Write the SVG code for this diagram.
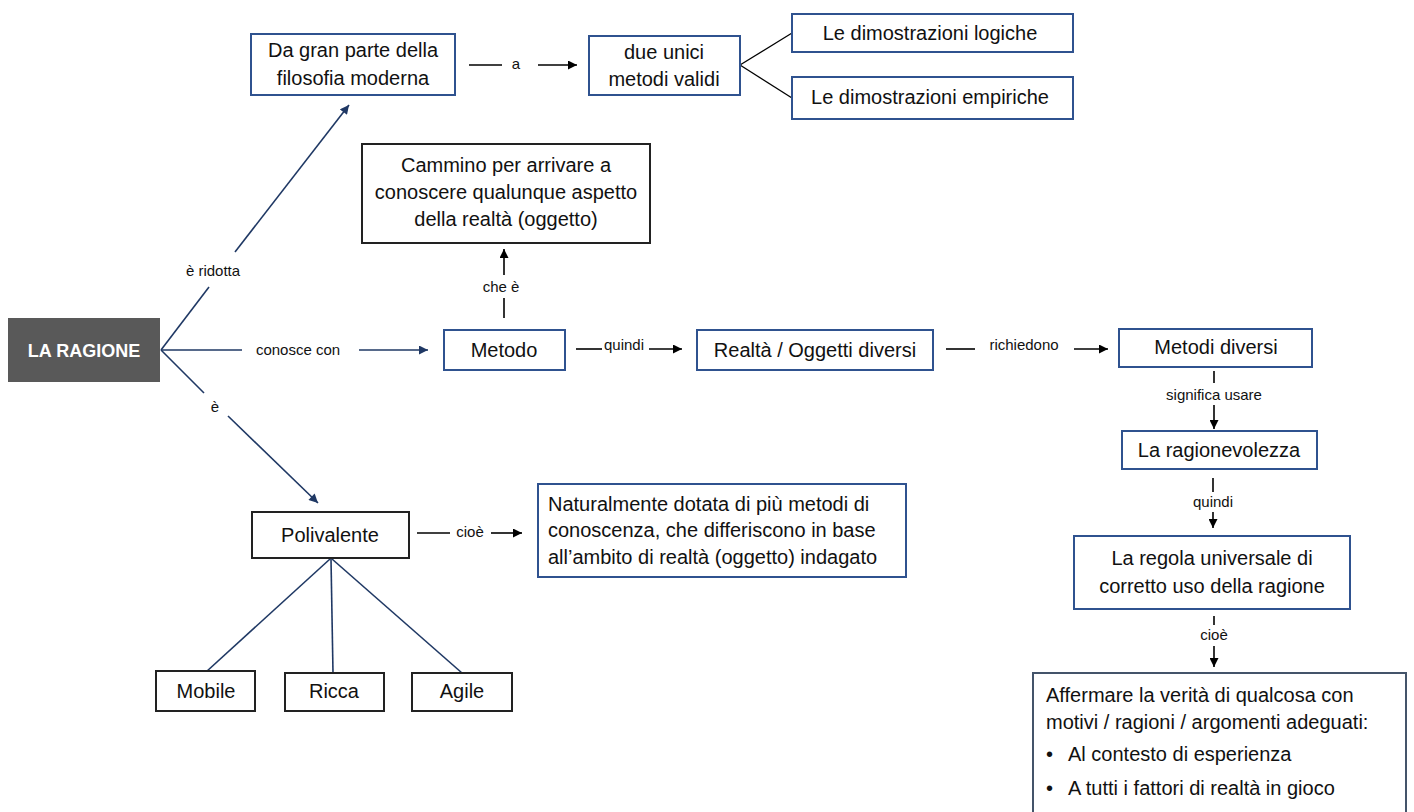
<svg xmlns="http://www.w3.org/2000/svg" width="1414" height="812" viewBox="0 0 1414 812">
<style>
.bg{fill:#fff}
.bb{fill:#fff;stroke:#2F528F;stroke-width:2}
.kb{fill:#fff;stroke:#222;stroke-width:2}
.t{font-family:"Liberation Sans",Arial,sans-serif;font-size:20px;fill:#111;text-anchor:middle}
.tl{font-family:"Liberation Sans",Arial,sans-serif;font-size:20px;fill:#111}
.lb{font-family:"Liberation Sans",Arial,sans-serif;font-size:15px;fill:#111;text-anchor:middle}
.nv{stroke:#1F3864;stroke-width:1.6;fill:none}
.bk{stroke:#000;stroke-width:1.6;fill:none}
</style>
<defs>
<marker id="an" viewBox="0 0 10 10" refX="10" refY="5" markerWidth="10" markerHeight="9" markerUnits="userSpaceOnUse" orient="auto"><path d="M0,0 L10,5 L0,10 z" fill="#1F3864"/></marker>
<marker id="ak" viewBox="0 0 10 10" refX="10" refY="5" markerWidth="10" markerHeight="9" markerUnits="userSpaceOnUse" orient="auto"><path d="M0,0 L10,5 L0,10 z" fill="#000"/></marker>
</defs>
<rect class="bg" x="0" y="0" width="1414" height="812"/>

<g id="connectors">
<line class="nv" x1="161" y1="350" x2="209" y2="287"/>
<line class="nv" x1="235" y1="252" x2="349" y2="105" marker-end="url(#an)"/>
<text class="lb" x="213" y="276">è ridotta</text>
<line class="nv" x1="161" y1="350" x2="242" y2="350"/>
<line class="nv" x1="359" y1="350" x2="428" y2="350" marker-end="url(#an)"/>
<text class="lb" x="298" y="355">conosce con</text>
<line class="nv" x1="161" y1="350" x2="204" y2="393"/>
<line class="nv" x1="228" y1="416" x2="318" y2="503" marker-end="url(#an)"/>
<text class="lb" x="215" y="412">è</text>
<line class="bk" x1="469" y1="65" x2="502" y2="65"/>
<text class="lb" x="516" y="69">a</text>
<line class="bk" x1="538" y1="65" x2="577" y2="65" marker-end="url(#ak)"/>
<line stroke="#000" stroke-width="1.3" x1="740" y1="65" x2="792" y2="33"/>
<line stroke="#000" stroke-width="1.3" x1="740" y1="65" x2="792" y2="98"/>
<line class="bk" x1="504" y1="318" x2="504" y2="298"/>
<text class="lb" x="501" y="292">che è</text>
<line class="bk" x1="504" y1="275" x2="504" y2="249" marker-end="url(#ak)"/>
<line class="bk" x1="576" y1="349" x2="602" y2="349"/>
<text class="lb" x="624" y="350">quindi</text>
<line class="bk" x1="649" y1="349" x2="682" y2="349" marker-end="url(#ak)"/>
<line class="bk" x1="946" y1="349" x2="975" y2="349"/>
<text class="lb" x="1024" y="350">richiedono</text>
<line class="bk" x1="1074" y1="349" x2="1108" y2="349" marker-end="url(#ak)"/>
<line class="bk" x1="1214" y1="371" x2="1214" y2="383"/>
<text class="lb" x="1214" y="400">significa usare</text>
<line class="bk" x1="1214" y1="405" x2="1214" y2="429" marker-end="url(#ak)"/>
<line class="bk" x1="1213" y1="478" x2="1213" y2="492"/>
<text class="lb" x="1213" y="507">quindi</text>
<line class="bk" x1="1213" y1="512" x2="1213" y2="528" marker-end="url(#ak)"/>
<line class="bk" x1="1214" y1="616" x2="1214" y2="625"/>
<text class="lb" x="1214" y="640">cioè</text>
<line class="bk" x1="1214" y1="646" x2="1214" y2="667" marker-end="url(#ak)"/>
<line class="bk" x1="417" y1="533" x2="450" y2="533"/>
<text class="lb" x="470" y="537">cioè</text>
<line class="bk" x1="491" y1="533" x2="522" y2="533" marker-end="url(#ak)"/>
<line class="nv" x1="330" y1="559" x2="206" y2="672"/>
<line class="nv" x1="331" y1="559" x2="333" y2="673"/>
<line class="nv" x1="332" y1="559" x2="462" y2="673"/>
</g>

<g id="la-ragione">
<rect x="8" y="318" width="152" height="64" fill="#595959"/>
<text x="84" y="357" font-family="Liberation Sans, Arial, sans-serif" font-size="18" font-weight="bold" fill="#fff" text-anchor="middle">LA RAGIONE</text>
</g>
<g id="filosofia">
<rect class="bb" x="251" y="34" width="204" height="61"/>
<text class="t" x="353" y="57">Da gran parte della</text>
<text class="t" x="353" y="85">filosofia moderna</text>
</g>
<g id="due-unici">
<rect class="bb" x="589" y="36" width="151" height="59"/>
<text class="t" x="664" y="59">due unici</text>
<text class="t" x="664" y="86">metodi validi</text>
</g>
<g id="logiche">
<rect class="bb" x="792" y="14" width="281" height="38"/>
<text class="t" x="930" y="40">Le dimostrazioni logiche</text>
</g>
<g id="empiriche">
<rect class="bb" x="792" y="77" width="281" height="42"/>
<text class="t" x="930" y="104">Le dimostrazioni empiriche</text>
</g>
<g id="cammino">
<rect class="kb" x="362" y="144" width="288" height="99"/>
<text class="t" x="506" y="172">Cammino per arrivare a</text>
<text class="t" x="506" y="199">conoscere qualunque aspetto</text>
<text class="t" x="506" y="226">della realtà (oggetto)</text>
</g>
<g id="metodo">
<rect class="bb" x="444" y="330" width="121" height="40"/>
<text class="t" x="504" y="357">Metodo</text>
</g>
<g id="realta">
<rect class="bb" x="697" y="330" width="236" height="40"/>
<text class="t" x="815" y="357">Realtà / Oggetti diversi</text>
</g>
<g id="metodi-diversi">
<rect class="bb" x="1119" y="329" width="193" height="38"/>
<text class="t" x="1216" y="354">Metodi diversi</text>
</g>
<g id="ragionevolezza">
<rect class="bb" x="1122" y="431" width="195" height="38"/>
<text class="t" x="1219" y="457">La ragionevolezza</text>
</g>
<g id="regola">
<rect class="bb" x="1074" y="536" width="276" height="73"/>
<text class="t" x="1212" y="565">La regola universale di</text>
<text class="t" x="1212" y="593">corretto uso della ragione</text>
</g>
<g id="affermare">
<rect x="1033" y="673" width="373" height="145" fill="#fff" stroke="#44546A" stroke-width="2"/>
<text class="tl" x="1046" y="702">Affermare la verità di qualcosa con</text>
<text class="tl" x="1046" y="729">motivi / ragioni / argomenti adeguati:</text>
<text class="tl" x="1046" y="761">•</text>
<text class="tl" x="1068" y="761">Al contesto di esperienza</text>
<text class="tl" x="1046" y="795">•</text>
<text class="tl" x="1068" y="795">A tutti i fattori di realtà in gioco</text>
</g>
<g id="polivalente">
<rect class="kb" x="252" y="512" width="157" height="46"/>
<text class="t" x="330" y="542">Polivalente</text>
</g>
<g id="naturalmente">
<rect x="538" y="484" width="368" height="93" fill="#fff" stroke="#2F528F" stroke-width="2"/>
<text class="tl" x="548" y="511" font-size="20.8">Naturalmente dotata di più metodi di</text>
<text class="tl" x="548" y="537" font-size="20.8">conoscenza, che differiscono in base</text>
<text class="tl" x="548" y="564" font-size="20.8">all’ambito di realtà (oggetto) indagato</text>
</g>
<g id="mobile">
<rect class="kb" x="156" y="671" width="99" height="40"/>
<text class="t" x="206" y="698">Mobile</text>
</g>
<g id="ricca">
<rect class="kb" x="285" y="673" width="99" height="38"/>
<text class="t" x="334" y="698">Ricca</text>
</g>
<g id="agile">
<rect class="kb" x="412" y="673" width="100" height="38"/>
<text class="t" x="462" y="698">Agile</text>
</g>
</svg>
